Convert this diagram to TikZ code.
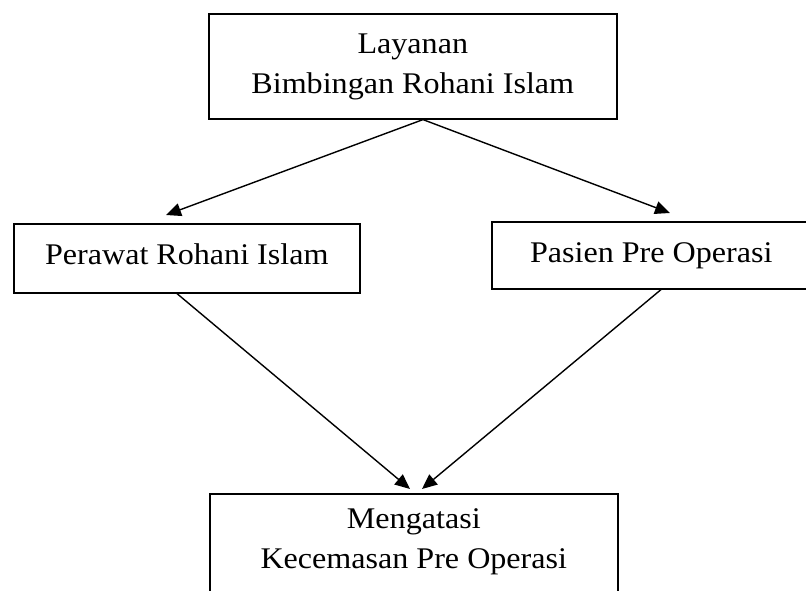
\documentclass[tikz,border=0pt]{standalone}
\usepackage{fontspec}
\setmainfont{Liberation Serif}[FakeStretch=1.07]
\usetikzlibrary{arrows.meta,calc}
\begin{document}
\begin{tikzpicture}[x=1pt,y=-1pt,
  box/.style={draw=black,line width=1.6pt,rectangle,anchor=north west,inner xsep=0pt,inner ysep=0pt,align=center,font=\fontsize{30}{40}\selectfont},
  conn/.style={line width=1.4pt,-{Triangle[length=15pt,width=13pt]}}]
\path[use as bounding box] (0,0) rectangle (806,591);
\clip (0,0) rectangle (806,591);
\fill[white] (0,0) rectangle (806,591);
\node[box,minimum width=408pt] (top) at (208,13) {\rule{0pt}{40pt}Layanan\\Bimbingan Rohani Islam\rule[-25pt]{0pt}{0pt}};
\node[box,minimum width=346pt] (left) at (13,223) {\rule{0pt}{41pt}Perawat Rohani Islam\rule[-28pt]{0pt}{0pt}};
\node[box,minimum width=319pt] (right) at (491,221) {\rule{0pt}{41pt}Pasien Pre Operasi\rule[-26pt]{0pt}{0pt}};
\node[box,minimum width=408pt] (bot) at (209,493) {\rule{0pt}{35pt}Mengatasi\\Kecemasan Pre Operasi\rule[-45pt]{0pt}{0pt}};
\coordinate (apex) at ($(top.south west)+(215,0)$);
\coordinate (t1) at (166,215);
\coordinate (t2) at (670,213);
\coordinate (s1) at ($(left.south west)+(164,0)$);
\coordinate (s2) at ($(right.south west)+(170,0)$);
\coordinate (t3) at (410,489);
\coordinate (t4) at (422,489);
\draw[conn] (apex) -- (t1);
\draw[conn] (apex) -- (t2);
\draw[conn] (s1) -- (t3);
\draw[conn] (s2) -- (t4);
\end{tikzpicture}
\end{document}
